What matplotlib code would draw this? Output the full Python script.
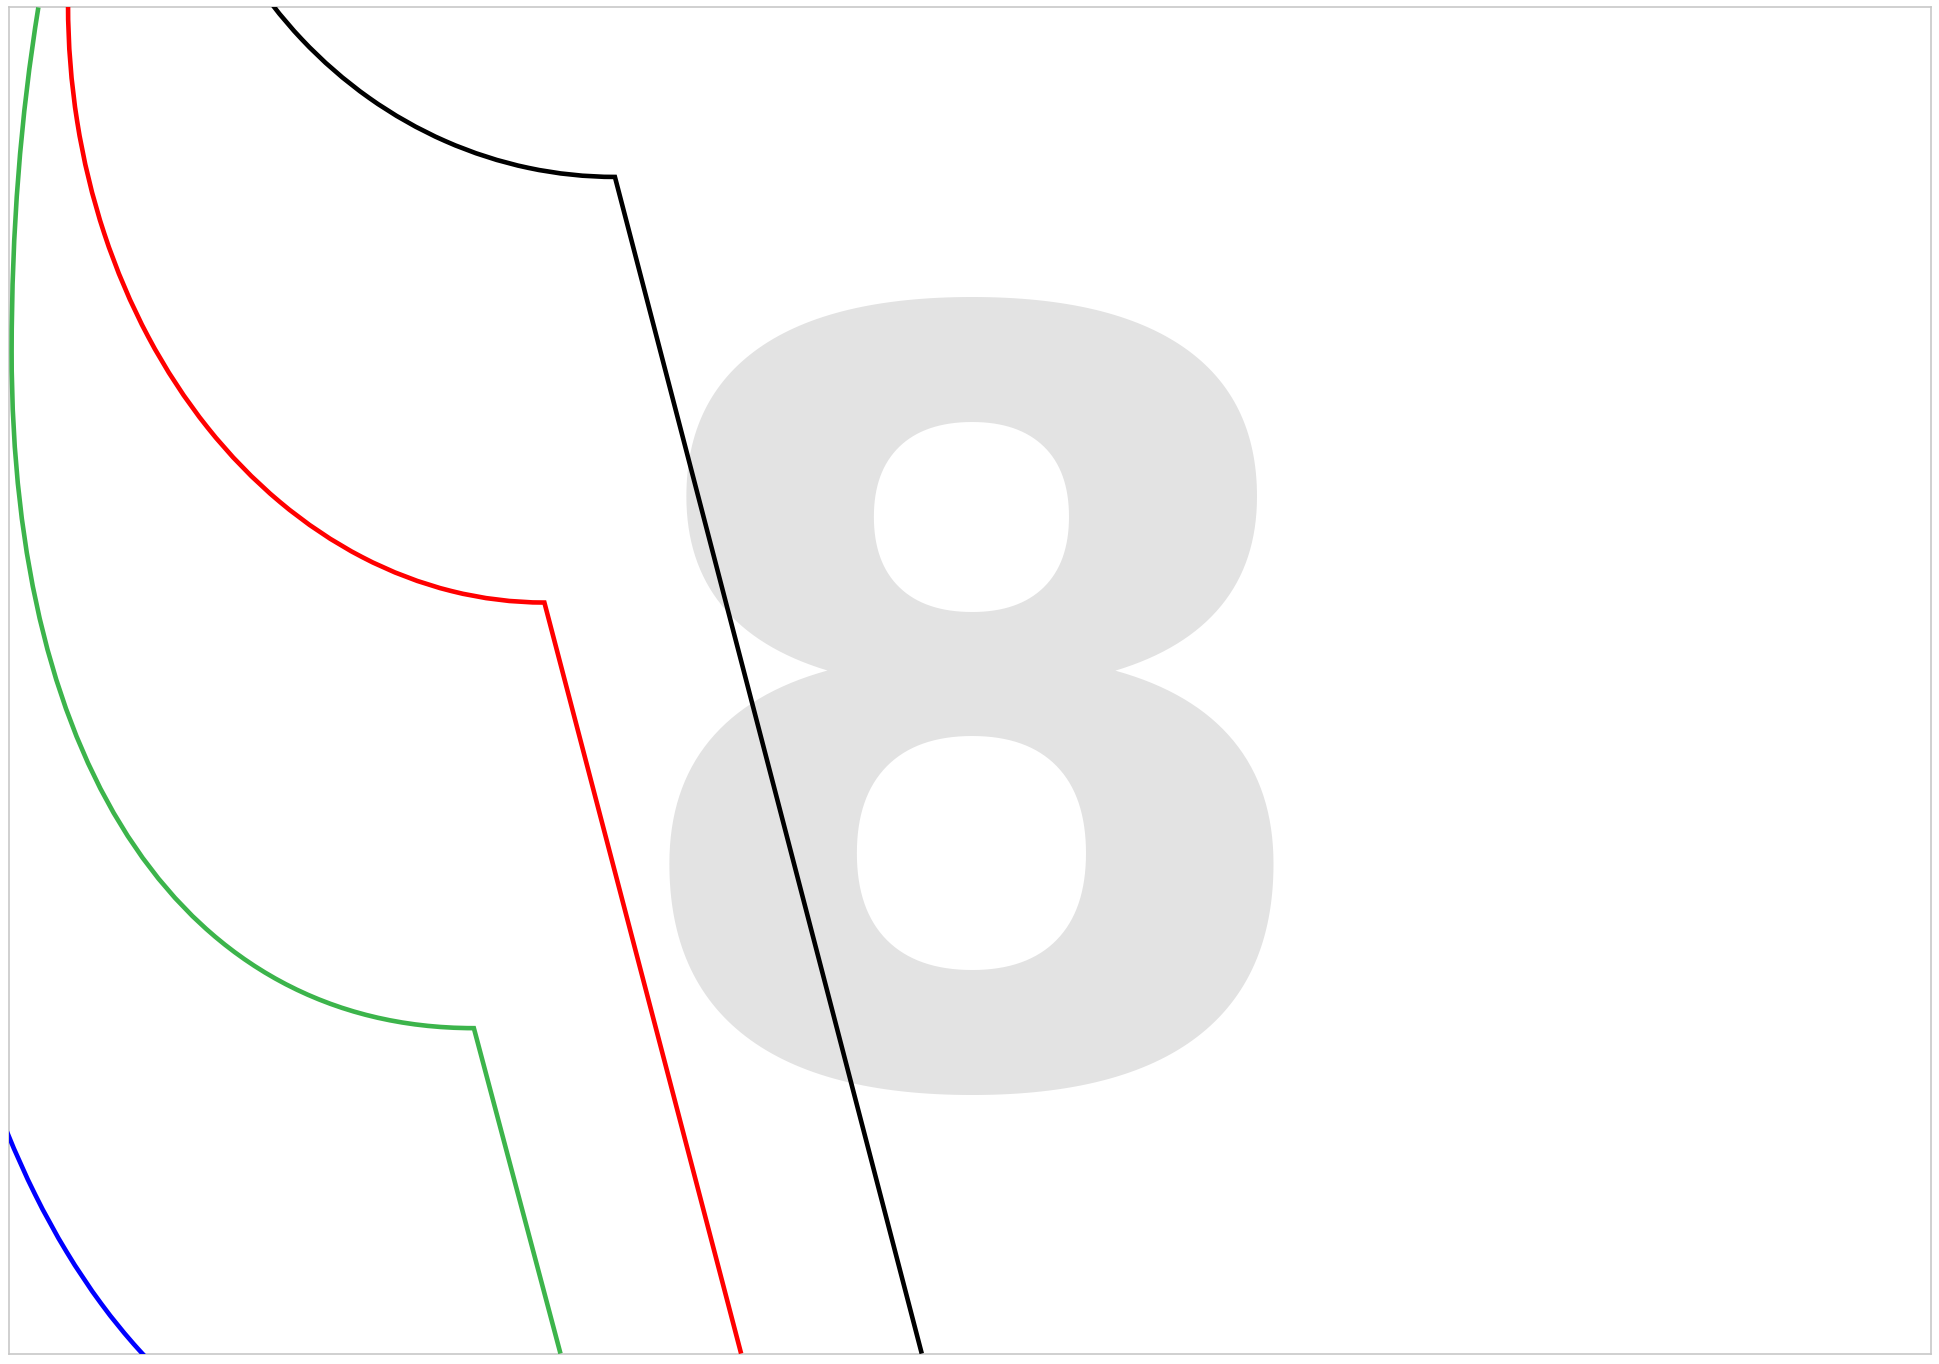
import matplotlib
matplotlib.use("Agg")
import matplotlib.pyplot as plt
import numpy as np
from matplotlib.patches import PathPatch
from matplotlib.path import Path
from matplotlib.transforms import Affine2D, IdentityTransform
from matplotlib.textpath import TextPath
from matplotlib.font_manager import FontProperties

# ---- data (in the chart's own coordinate units) ----
series_names = ["black", "red", "green", "blue"]
series_colors = ["#000000", "#ff0000", "#3cb44b", "#0000ff"]

# elliptic arcs (black, red, blue)
arc_series = ["black", "red", "blue"]
arc_center_x = [497, 440, 326]
arc_center_y = [-237, 4, 562]
arc_radius_x = [358, 385, 385]
arc_radius_y = [380, 483, 636]
arc_theta_end = [270, 270, 180]

# green curve: top point, leftmost point, corner (with curve control points)
green_x = [31, 9.4, 9.4, 9.4, 151, 383]
green_y = [6, 138, 284, 623, 831, 831]

# straight legs
line_series = ["black", "red", "green"]
line_end_x = [745, 599, 453]
line_end_y = [1094, 1094, 1094]

x_range = [7, 1561]
y_range = [1094, 6]
watermark = "8"
watermark_box = [533, 1037, 244, 882]  # x0, x1, y0(top), y1(bottom)

W, H, DPI = 1940, 1364, 100
fig = plt.figure(figsize=(W / DPI, H / DPI), dpi=DPI)
fig.patch.set_facecolor("white")
sx = W / 1568.0
ax = fig.add_axes([x_range[0] / 1568.0, 1 - y_range[0] * sx / H,
                   (x_range[1] - x_range[0]) / 1568.0,
                   (y_range[0] - y_range[1]) * sx / H])
ax.set_xlim(x_range)
ax.set_ylim(y_range)
ax.set_xticks([])
ax.set_yticks([])
for s in ax.spines.values():
    s.set_color("#c8c8c8")
    s.set_linewidth(1.2)

# watermark digit sized to its ink box
fp = FontProperties(family="DejaVu Sans", weight="bold")
ext = TextPath((0, 0), watermark, size=1, prop=fp).get_extents()
box_w = (watermark_box[1] - watermark_box[0]) * sx
box_h = (watermark_box[3] - watermark_box[2]) * sx
size_px = (box_h / ext.height) ** 0.75 * (box_w / ext.width) ** 0.25
size_pt = size_px * 72 / DPI
cx_px = (watermark_box[0] + watermark_box[1]) / 2 * sx
cy_px = H - (watermark_box[2] + watermark_box[3]) / 2 * sx
x_left = cx_px - (ext.x0 + ext.width / 2) * size_px
base = cy_px - (ext.y0 + ext.height / 2) * size_px
ax.text(x_left, base, watermark, transform=IdentityTransform(), fontproperties=fp,
        fontsize=size_pt, color="#e3e3e3", ha="left", va="baseline", zorder=0, clip_on=False)

LW = 3.3
col = dict(zip(series_names, series_colors))
leg = {n: i for i, n in enumerate(line_series)}

for i, name in enumerate(arc_series):
    unit = Path.arc(90, arc_theta_end[i], n=16)
    t = Affine2D().scale(arc_radius_x[i], arc_radius_y[i]).translate(arc_center_x[i], arc_center_y[i])
    verts = t.transform(unit.vertices)[::-1]          # run from the top end down to the corner
    codes = list(unit.codes)
    if name in leg:
        j = leg[name]
        verts = np.vstack([verts, [[line_end_x[j], line_end_y[j]]]])
        codes = codes + [Path.LINETO]
    ax.add_patch(PathPatch(Path(verts, codes), fill=False, edgecolor=col[name], lw=LW,
                           zorder=3, joinstyle="miter", capstyle="butt"))

j = leg["green"]
g_verts = list(zip(green_x, green_y)) + [(line_end_x[j], line_end_y[j])]
g_codes = [Path.MOVETO, Path.CURVE3, Path.CURVE3, Path.CURVE4, Path.CURVE4, Path.CURVE4, Path.LINETO]
ax.add_patch(PathPatch(Path(g_verts, g_codes), fill=False, edgecolor=col["green"], lw=LW,
                       zorder=3, joinstyle="miter", capstyle="butt"))

fig.savefig("out.png", dpi=DPI)
